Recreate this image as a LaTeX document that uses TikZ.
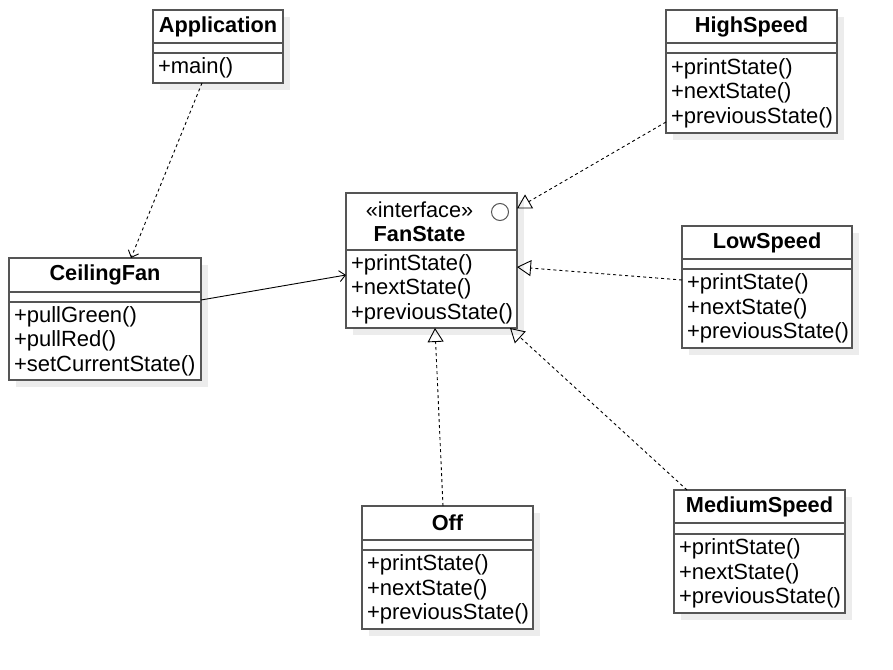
\documentclass[tikz,border=0pt]{standalone}
\usepackage{fontspec}
\setmainfont{Liberation Sans}
\usepackage{tikz}
\usetikzlibrary{calc}
\usetikzlibrary {arrows.meta}
\usetikzlibrary {positioning,shadows}
\definecolor{G0}{HTML}{555555}
\definecolor{G1}{HTML}{ececec}

\begin{document}
\begin{tikzpicture}[x=1pt,y=-1pt]
\tikzstyle{shad}=[drop shadow={shadow xshift=7pt,shadow yshift=-7pt,fill=G1,opacity=1}]
\tikzstyle{clst}=[shad, draw=G0, fill=white, line width=1.4pt, inner sep=0pt, outer sep=0pt, minimum height=33pt, anchor=north west, font=\fontsize{21.7}{24.5}\selectfont\bfseries]
\tikzstyle{clse}=[shad, draw=G0, fill=white, line width=1.4pt, inner sep=0pt, outer sep=0pt, minimum height=10pt]
\tikzstyle{clsm}=[shad, draw=G0, fill=white, line width=1.4pt, inner xsep=5pt, inner ysep=0pt, outer sep=0pt, align=left, font=\fontsize{22}{24.5}\selectfont]
\tikzstyle{real}=[dashed, line width=0.9pt, -{Triangle[open,length=14pt,width=16pt]}]
\tikzstyle{dep}=[dashed, line width=0.9pt, -{Straight Barb[length=6pt,width=11pt]}]
\useasboundingbox (0,0) rectangle (893,669);
%
\node[clst, minimum width=130pt](app-t) at (153,10){Application};
\node[clse, minimum width=130pt, below=0pt of app-t](app-e){};
\node[clsm, text width=120pt, minimum height=30pt, below=0pt of app-e](app-m){+main()};
%
\node[clst, minimum width=171pt, minimum height=57pt, align=center](fs-t) at (346,193){\mdseries «interface»\hspace*{24pt}\\FanState\hspace*{24pt}};
\node[clsm, text width=161pt, minimum height=78pt, below=0pt of fs-t](fs-m){+printState()\\+nextState()\\+previousState()};
\node[circle, draw=G0, fill=white, line width=1pt, minimum size=17pt, inner sep=0pt](fs-icon) at ($(fs-t.north east)+(-17,19)$){};
%
\node[clst, minimum width=192pt, minimum height=34pt](ceil-t) at (9,258){CeilingFan};
\node[clse, minimum width=192pt, below=0pt of ceil-t](ceil-e){};
\node[clsm, text width=182pt, minimum height=78pt, below=0pt of ceil-e](ceil-m){+pullGreen()\\+pullRed()\\+setCurrentState()};
%
\node[clst, minimum width=171pt](high-t) at (666,10){HighSpeed};
\node[clse, minimum width=171pt, below=0pt of high-t](high-e){};
\node[clsm, text width=161pt, minimum height=80pt, below=0pt of high-e](high-m){+printState()\\+nextState()\\+previousState()};
%
\node[clst, minimum width=170pt](low-t) at (682,226){LowSpeed};
\node[clse, minimum width=170pt, below=0pt of low-t](low-e){};
\node[clsm, text width=160pt, minimum height=79pt, below=0pt of low-e](low-m){+printState()\\+nextState()\\+previousState()};
%
\node[clst, minimum width=171pt, minimum height=34pt](off-t) at (362,506){Off};
\node[clse, minimum width=171pt, below=0pt of off-t](off-e){};
\node[clsm, text width=161pt, minimum height=79pt, below=0pt of off-e](off-m){+printState()\\+nextState()\\+previousState()};
%
\node[clst, minimum width=171pt](med-t) at (674,490){MediumSpeed};
\node[clse, minimum width=171pt, minimum height=11pt, below=0pt of med-t](med-e){};
\node[clsm, text width=161pt, minimum height=79pt, below=0pt of med-e](med-m){+printState()\\+nextState()\\+previousState()};
%
\draw[dep] ($(app-m.south)+(-16,0)$) -- ($(ceil-t.north)+(26,0)$);
\draw[line width=0.9pt, -{Straight Barb[length=6pt,width=11pt]}] ($(ceil-e.east)+(0,3)$) -- ($(fs-m.west)+(0,-14)$);
%
\draw[real] ($(high-m.south west)+(0,-11)$) -- ($(fs-t.east)+(0,-13)$);
\draw[real] ($(low-m.north west)+(0,11)$) -- ($(fs-m.north east)+(0,17)$);
\draw[real] ($(off-t.north)+(-4.5,0)$) -- ($(fs-m.south)+(3.5,0)$);
\draw[real] ($(med-t.north west)+(13,0)$) -- ($(fs-m.south east)+(-7,0)$);
%
\end{tikzpicture}
\end{document}
